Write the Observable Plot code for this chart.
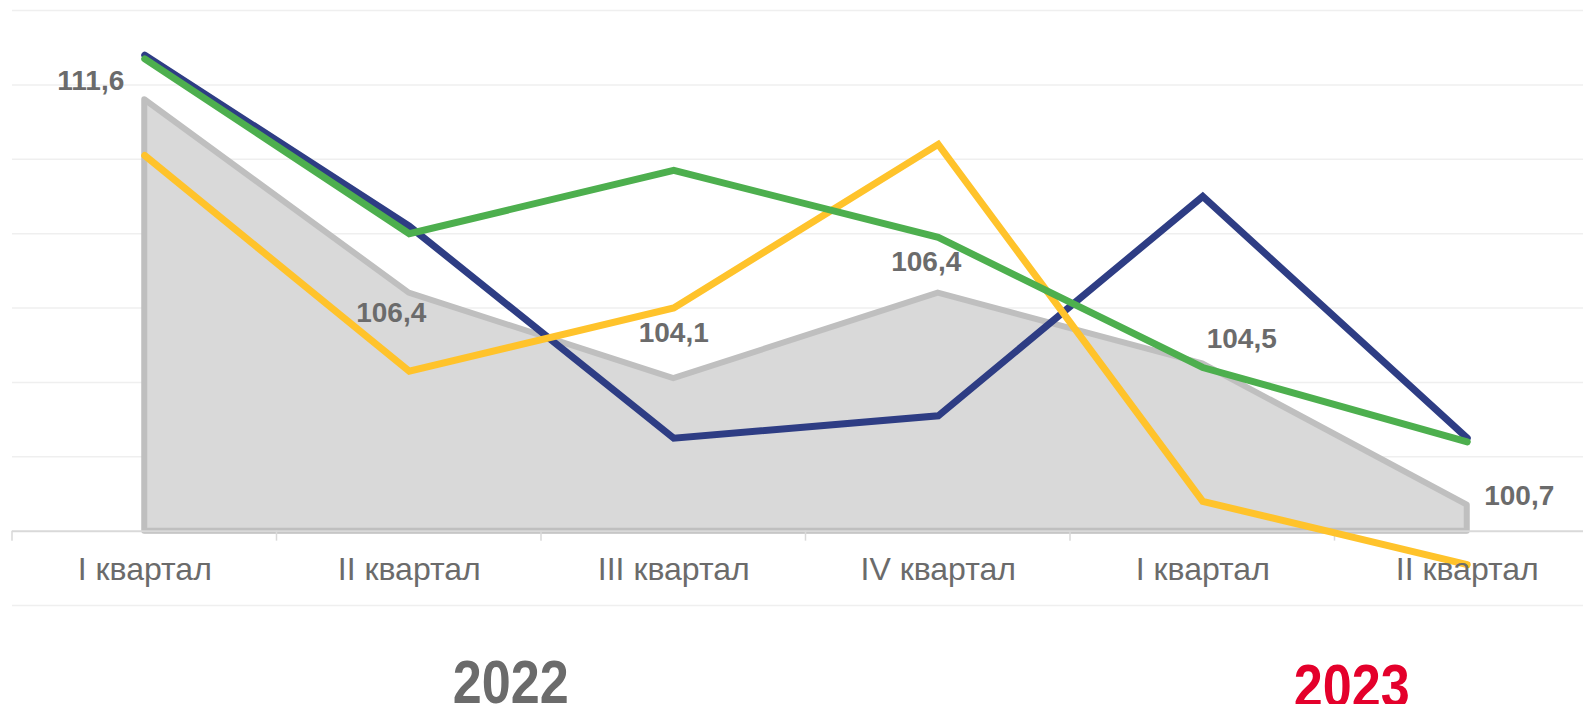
<!DOCTYPE html>
<html>
<head>
<meta charset="utf-8">
<script src="https://cdn.jsdelivr.net/npm/d3@7"></script>
<script src="https://cdn.jsdelivr.net/npm/@observablehq/plot@0.6"></script>
<style>
  html, body { margin: 0; padding: 0; background: #ffffff; }
  #chart svg { display: block; }
</style>
</head>
<body>
<div id="chart"></div>
<script>
// ---- data ----
const quarters = ["I квартал", "II квартал", "III квартал", "IV квартал", "I квартал", "II квартал"];
const years = ["2022", "2022", "2022", "2022", "2023", "2023"];
const totalValues  = [111.6, 106.4, 104.1, 106.4, 104.5, 100.7];
const blueValues   = [112.8, 108.2, 102.5, 103.1, 109.0, 102.5];
const greenValues  = [112.7, 108.0, 109.7, 107.9, 104.4, 102.4];
const yellowValues = [110.1, 104.3, 106.0, 110.4, 100.8, 99.1];
const gridValues = [98, 100, 102, 104, 106, 108, 110, 112, 114];
const yearLabels = ["2022", "2023"];

// ---- table built from arrays ----
const keys = quarters.map((q, i) => years[i] + " " + q);
const rows = keys.map((k, i) => ({
  key: k, quarter: quarters[i], year: years[i],
  total: totalValues[i], blue: blueValues[i], green: greenValues[i], yellow: yellowValues[i]
}));
const fmt = v => v.toFixed(1).replace(".", ",");
const firstKeyOfYear = y => keys[years.indexOf(y)];

// ---- styles ----
const font = "'Liberation Sans', Arial, sans-serif";
const labelColor = "#6B6B6B";

// value label offsets (layout)
const labelOffsets = [[-54, -19], [-18, 20], [0, -46], [-12, -31], [39, -25], [52, -9]];

const boundaryTicks = (index, scales) => {
  const x = scales.x, y = scales.y;
  const step = x(keys[1]) - x(keys[0]);
  const g = d3.create("svg:g").attr("stroke", "#D9D9D9").attr("stroke-width", 1.5);
  const pos = keys.map(k => x(k)).concat([x(keys[keys.length - 1]) + step]);
  for (const p of pos) {
    g.append("line").attr("x1", p).attr("x2", p).attr("y1", y(100)).attr("y2", y(100) + 10);
  }
  return g.node();
};

const chart = Plot.plot({
  width: 1583,
  height: 704,
  marginLeft: 12,
  marginRight: 0,
  marginTop: 10,
  marginBottom: 99,
  style: { fontFamily: font, background: "#ffffff" },
  x: { type: "band", domain: keys, range: [12, 1599], padding: 0, round: false, axis: null, label: null },
  y: { domain: [98, 114], axis: null, label: null },
  marks: [
    Plot.ruleY(gridValues.filter(v => v !== 100), { stroke: "#EFEFEF", strokeWidth: 1.5 }),
    Plot.areaY(rows, { x: "key", y1: 100, y2: "total", fill: "#D9D9D9", stroke: "#BFBFBF", strokeWidth: 6, strokeLinejoin: "round" }),
    Plot.ruleY([100], { stroke: "#D9D9D9", strokeWidth: 2 }),
    boundaryTicks,
    Plot.line(rows, { x: "key", y: "blue", stroke: "#2E3D84", strokeWidth: 7, strokeLinejoin: "miter", strokeMiterlimit: 10 }),
    Plot.line(rows, { x: "key", y: "yellow", stroke: "#FFC32B", strokeWidth: 7, strokeLinejoin: "miter", strokeMiterlimit: 10 }),
    Plot.line(rows, { x: "key", y: "green", stroke: "#4DAF4E", strokeWidth: 7, strokeLinejoin: "miter", strokeMiterlimit: 10 }),
    ...labelOffsets.map(([dx, dy], i) =>
      Plot.text(rows, {
        filter: (d, j) => j === i,
        x: "key", y: "total", text: d => fmt(d.total),
        dx, dy, fontSize: 28, fontWeight: "bold", fill: labelColor
      })
    ),
    Plot.axisX({
      anchor: "bottom", tickSize: 0, tickPadding: 3, dy: -51, label: null,
      tickFormat: k => k.split(" ").slice(1).join(" "),
      fontSize: 32, color: "#6B6B6B"
    }),
    Plot.text([yearLabels[0]], {
      x: d => firstKeyOfYear(d), frameAnchor: "bottom", text: d => d,
      dx: 366, dy: 53, lineAnchor: "top",
      fontSize: 62, fontWeight: "bold", fill: "#6B6B6B"
    }),
    Plot.text([yearLabels[1]], {
      x: d => firstKeyOfYear(d), frameAnchor: "bottom", text: d => d,
      dx: 149, dy: 57, lineAnchor: "top",
      fontSize: 62, fontWeight: "bold", fill: "#E4002B"
    })
  ]
});
// narrow the year labels to the condensed look of the original
d3.select(chart).selectAll("text").filter(function () {
  return yearLabels.includes(this.textContent);
}).attr("textLength", 116).attr("lengthAdjust", "spacingAndGlyphs");
document.getElementById("chart").appendChild(chart);
</script>
</body>
</html>
